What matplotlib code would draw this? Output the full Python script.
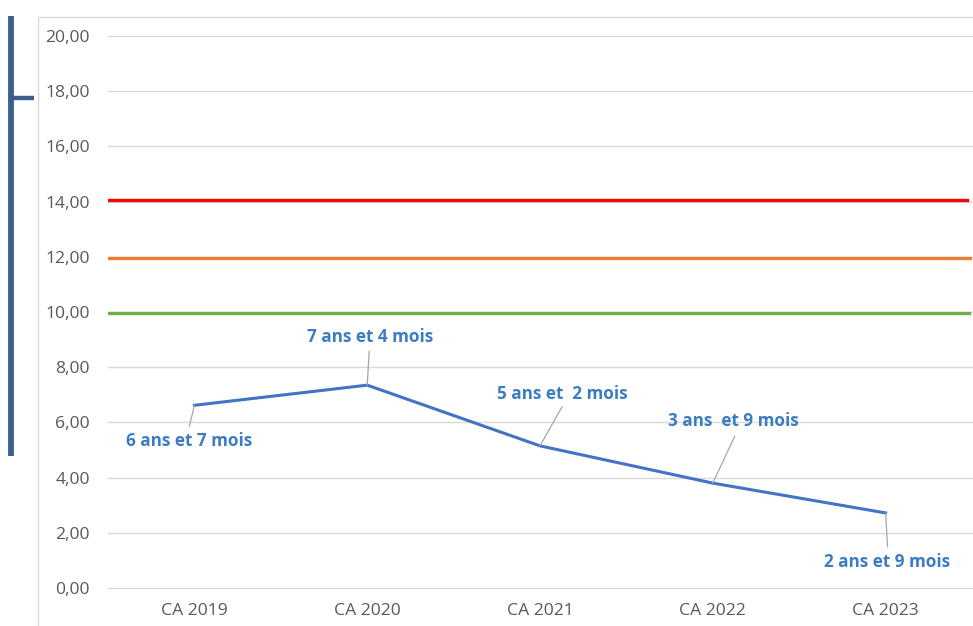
import matplotlib.pyplot as plt
from matplotlib.lines import Line2D
from matplotlib.patches import Rectangle

CATEGORIES = ["CA 2019", "CA 2020", "CA 2021", "CA 2022", "CA 2023"]
DURATION = [6.62, 7.35, 5.15, 3.80, 2.72]
LABELS = ["6 ans et 7 mois", "7 ans et 4 mois", "5 ans et  2 mois",
          "3 ans  et 9 mois", "2 ans et 9 mois"]
RED_LEVEL = 14.05
ORANGE_LEVEL = 11.97
GREEN_LEVEL = 9.98
Y_TICKS = [0, 2, 4, 6, 8, 10, 12, 14, 16, 18, 20]

# label offsets (pixels) relative to each point: text centre, leader end
LABEL_OFFSETS = [(-5, -36), (3, 48), (22, 52), (21, 62), (1, -49)]
LEADER_ENDS = [(-5, -21), (2, 34), (22, 39), (22, 47), (2, -34)]

W, H = 973, 626
fig = plt.figure(figsize=(W / 100, H / 100), dpi=100)
plt.rcParams["font.family"] = ["Open Sans", "DejaVu Sans"]

# outer chart border and left decoration
fig.add_artist(Rectangle((38 / W, -0.1), 1.0, (H - 17) / H + 0.1,
                         transform=fig.transFigure, fill=False,
                         edgecolor="#d9d9d9", linewidth=1.0))
fig.add_artist(Line2D([11 / W, 11 / W], [1 - 16 / H, 1 - 456 / H],
                      transform=fig.transFigure, color="#3b5e8c",
                      linewidth=4.2, solid_capstyle="butt"))
fig.add_artist(Line2D([9 / W, 34 / W], [1 - 98 / H, 1 - 98 / H],
                      transform=fig.transFigure, color="#3b5e8c",
                      linewidth=3.2, solid_capstyle="butt"))

ax = fig.add_axes([108 / W, (H - 588) / H, (972 - 108) / W, (588 - 36) / H])
x = range(len(CATEGORIES))

ax.axhline(RED_LEVEL, xmax=0.994, color="#ff0000", linewidth=2.4)
ax.axhline(ORANGE_LEVEL, color="#ed7d31", linewidth=2.4)
ax.axhline(GREEN_LEVEL, xmax=0.997, color="#70ad47", linewidth=2.4)
ax.plot(x, DURATION, color="#4472c4", linewidth=2.2)

for xi, yi, text, (tx, ty), (lx, ly) in zip(x, DURATION, LABELS,
                                            LABEL_OFFSETS, LEADER_ENDS):
    ax.annotate("", xy=(xi, yi), xytext=(lx, ly), textcoords="offset pixels",
                arrowprops=dict(arrowstyle="-", color="#a6a6a6", lw=0.9,
                                shrinkA=0, shrinkB=0))
    ax.annotate(text, xy=(xi, yi), xytext=(tx, ty), textcoords="offset pixels",
                ha="center", va="center", fontsize=12.3, fontweight="bold",
                color="#3c7cc3")

ax.set_xlim(-0.5, 4.5)
ax.set_ylim(0, 20)
ax.set_yticks(Y_TICKS)
ax.set_yticklabels([f"{v:.2f}".replace(".", ",") for v in Y_TICKS])
ax.set_xticks(list(x))
ax.set_xticklabels(CATEGORIES)
ax.tick_params(axis="both", length=0, colors="#595959", labelsize=12.6)
ax.tick_params(axis="y", pad=13)
ax.tick_params(axis="x", pad=11)
ax.grid(axis="y", color="#d9d9d9", linewidth=1.0)
for line in ax.get_ygridlines():
    line.set_clip_on(False)
ax.set_axisbelow(True)
for spine in ax.spines.values():
    spine.set_visible(False)

fig.savefig("out.png", dpi=100)
